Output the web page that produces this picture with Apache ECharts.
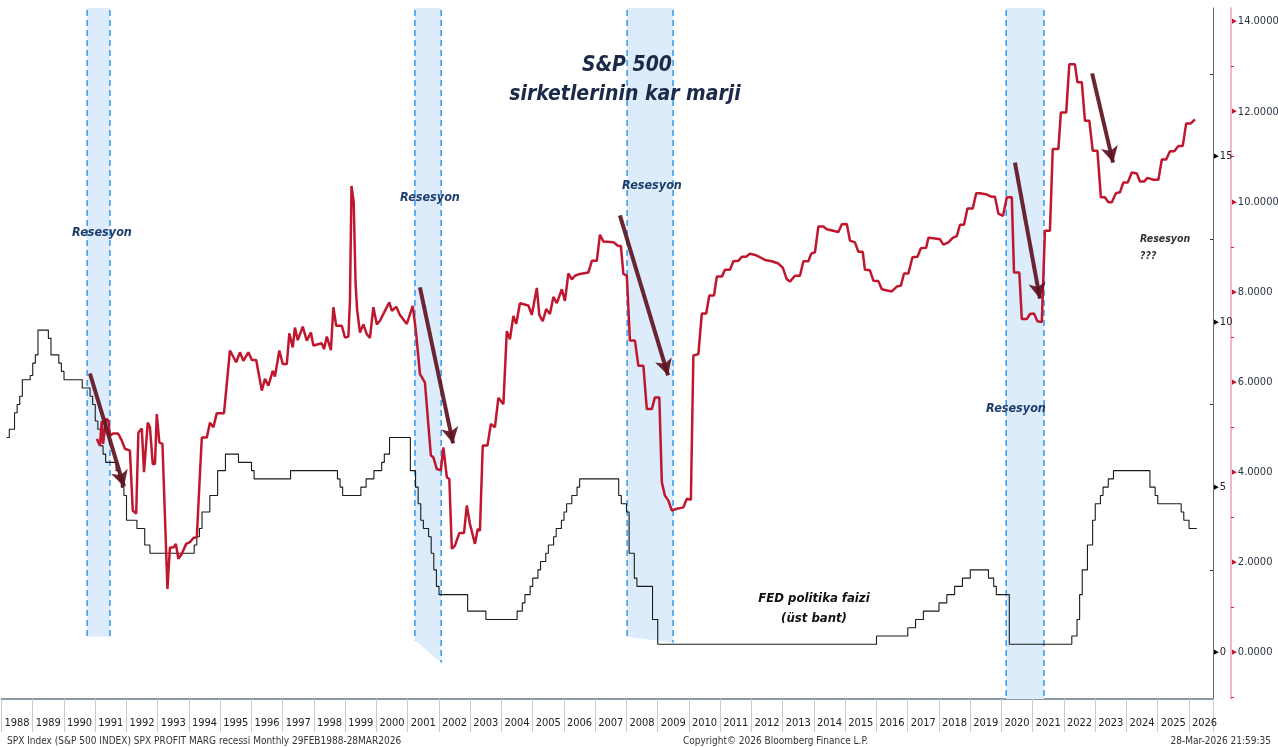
<!DOCTYPE html>
<html><head><meta charset="utf-8">
<script src="https://cdn.jsdelivr.net/npm/echarts@6/dist/echarts.min.js"></script>
<style>html,body{margin:0;padding:0;background:#fff}#c{width:1278px;height:747px}</style>
</head><body><div id="c"></div>
<script>
// ---- DATA ----
// S&P 500 profit margin (right red axis), x = decimal year
const marginYears = [1991.05,1991.15,1991.21,1991.25,1991.35,1991.42,1991.47,1991.57,1991.73,1991.85,1991.95,1992.11,1992.20,1992.31,1992.38,1992.49,1992.56,1992.68,1992.75,1992.84,1992.91,1992.97,1993.05,1993.15,1993.31,1993.39,1993.50,1993.58,1993.66,1993.77,1993.91,1994.03,1994.14,1994.25,1994.35,1994.41,1994.57,1994.67,1994.78,1994.89,1995.12,1995.31,1995.51,1995.63,1995.74,1995.90,1996.01,1996.15,1996.33,1996.43,1996.54,1996.68,1996.75,1996.89,1997.00,1997.13,1997.21,1997.32,1997.39,1997.48,1997.64,1997.77,1997.90,1997.98,1998.25,1998.32,1998.41,1998.54,1998.62,1998.71,1998.89,1998.99,1999.10,1999.15,1999.20,1999.27,1999.33,1999.38,1999.47,1999.58,1999.69,1999.79,1999.90,2000.01,2000.11,2000.27,2000.41,2000.49,2000.63,2000.75,2000.97,2001.16,2001.27,2001.39,2001.55,2001.74,2001.82,2001.93,2002.06,2002.14,2002.25,2002.33,2002.41,2002.51,2002.65,2002.80,2002.89,2002.99,2003.05,2003.15,2003.24,2003.31,2003.40,2003.55,2003.66,2003.79,2003.90,2004.06,2004.17,2004.27,2004.38,2004.47,2004.59,2004.86,2004.97,2005.02,2005.13,2005.21,2005.32,2005.43,2005.55,2005.66,2005.77,2005.93,2006.03,2006.14,2006.25,2006.35,2006.51,2006.78,2006.89,2007.05,2007.15,2007.26,2007.58,2007.74,2007.82,2007.90,2008.01,2008.11,2008.27,2008.38,2008.54,2008.65,2008.81,2008.91,2009.05,2009.13,2009.23,2009.34,2009.45,2009.61,2009.82,2009.93,2010.06,2010.14,2010.30,2010.41,2010.55,2010.65,2010.80,2010.89,2011.05,2011.15,2011.31,2011.42,2011.58,2011.69,2011.83,2011.95,2012.11,2012.27,2012.43,2012.65,2012.86,2013.00,2013.13,2013.23,2013.39,2013.55,2013.66,2013.82,2013.91,2014.03,2014.14,2014.30,2014.41,2014.78,2014.89,2015.05,2015.15,2015.31,2015.42,2015.56,2015.63,2015.79,2015.90,2016.06,2016.17,2016.49,2016.65,2016.78,2016.88,2017.02,2017.15,2017.31,2017.42,2017.59,2017.66,2017.82,2018.03,2018.14,2018.30,2018.44,2018.57,2018.67,2018.80,2018.91,2019.08,2019.19,2019.31,2019.53,2019.69,2019.79,2019.90,2020.05,2020.17,2020.33,2020.40,2020.57,2020.65,2020.81,2020.91,2021.04,2021.15,2021.29,2021.39,2021.55,2021.64,2021.82,2021.90,2022.07,2022.17,2022.35,2022.43,2022.57,2022.67,2022.81,2022.92,2023.07,2023.18,2023.31,2023.42,2023.53,2023.66,2023.79,2023.90,2024.04,2024.17,2024.33,2024.43,2024.56,2024.67,2024.86,2025.02,2025.13,2025.27,2025.39,2025.53,2025.66,2025.80,2025.91,2026.06,2026.19];
const marginValues = [4.74,4.59,5.14,4.63,5.19,5.14,4.81,4.86,4.86,4.70,4.52,4.48,3.15,3.08,4.88,4.97,4.00,5.10,5.00,4.18,4.18,5.29,4.66,4.63,1.41,2.33,2.33,2.41,2.08,2.19,2.41,2.45,2.54,2.56,3.96,4.77,4.77,5.10,5.00,5.31,5.31,6.70,6.44,6.66,6.47,6.66,6.49,6.49,5.81,6.07,5.92,6.25,6.12,6.70,6.40,6.40,7.08,6.77,7.21,6.93,7.23,6.92,7.10,6.81,6.86,6.73,7.01,6.71,7.66,7.25,7.25,6.99,7.01,7.80,10.35,10.00,8.20,7.60,7.10,7.28,7.06,6.98,7.66,7.28,7.36,7.58,7.77,7.58,7.67,7.49,7.29,7.69,7.07,6.18,5.99,4.37,4.33,4.07,4.04,4.55,3.89,3.85,2.30,2.37,2.65,2.65,3.26,2.85,2.89,2.41,2.74,2.70,4.59,4.59,5.07,5.00,5.65,5.51,7.13,6.95,7.47,7.29,7.75,7.70,7.49,7.49,8.09,7.49,7.35,7.62,7.51,7.89,7.75,8.06,7.80,8.41,8.28,8.36,8.40,8.43,8.69,8.69,9.27,9.12,9.10,9.02,9.02,8.40,8.36,6.92,6.92,6.36,6.36,5.40,5.40,5.66,5.66,3.78,3.48,3.37,3.15,3.19,3.22,3.41,3.39,6.59,6.62,7.52,7.52,7.92,7.92,8.34,8.34,8.49,8.49,8.68,8.69,8.78,8.78,8.85,8.82,8.77,8.71,8.68,8.63,8.54,8.28,8.23,8.36,8.36,8.68,8.68,8.85,8.88,9.45,9.45,9.39,9.33,9.50,9.51,9.14,9.10,8.89,8.89,8.49,8.48,8.25,8.24,8.06,8.01,8.12,8.14,8.41,8.41,8.77,8.78,8.97,8.98,9.20,9.19,9.17,9.05,9.10,9.20,9.24,9.49,9.49,9.85,9.85,10.19,10.19,10.16,10.11,10.11,9.74,9.69,10.10,10.10,8.43,8.43,7.40,7.40,7.51,7.52,7.35,7.33,9.36,9.36,11.17,11.17,11.98,11.98,13.05,13.05,12.65,12.65,11.80,11.80,11.13,11.13,10.10,10.10,9.99,9.99,10.19,10.21,10.43,10.43,10.65,10.63,10.45,10.45,10.53,10.49,10.49,10.94,10.94,11.12,11.12,11.24,11.24,11.74,11.74,11.83];

// Fed funds target (upper bound), month of change -> rate (left black scale)
const fedMonths = ['1988-02','1988-03','1988-05','1988-06','1988-07','1988-08','1988-11','1988-12','1989-01','1989-02','1989-06','1989-07','1989-10','1989-11','1989-12','1990-07','1990-10','1990-11','1990-12','1991-01','1991-02','1991-03','1991-04','1991-08','1991-09','1991-10','1991-11','1991-12','1992-04','1992-07','1992-09','1994-02','1994-03','1994-04','1994-05','1994-08','1994-11','1995-02','1995-07','1995-12','1996-01','1997-03','1998-09','1998-10','1998-11','1999-06','1999-08','1999-11','2000-02','2000-03','2000-05','2001-01','2001-03','2001-04','2001-05','2001-06','2001-08','2001-09','2001-10','2001-11','2001-12','2002-11','2003-06','2004-06','2004-08','2004-09','2004-11','2004-12','2005-02','2005-03','2005-05','2005-06','2005-08','2005-09','2005-11','2005-12','2006-01','2006-03','2006-05','2006-06','2007-09','2007-10','2007-12','2008-01','2008-03','2008-04','2008-10','2008-12','2015-12','2016-12','2017-03','2017-06','2017-12','2018-03','2018-06','2018-09','2018-12','2019-07','2019-09','2019-10','2020-03','2022-03','2022-05','2022-06','2022-07','2022-09','2022-11','2022-12','2023-02','2023-03','2023-05','2023-07','2024-09','2024-11','2024-12','2025-09','2025-10','2025-12','2026-03'];
const fedRates = [6.5,6.75,7.25,7.5,7.75,8.25,8.375,8.75,9.0,9.75,9.5,9.0,8.75,8.5,8.25,8.0,7.75,7.5,7.0,6.75,6.25,6.0,5.75,5.5,5.25,5.0,4.75,4.0,3.75,3.25,3.0,3.25,3.5,3.75,4.25,4.75,5.5,6.0,5.75,5.5,5.25,5.5,5.25,5.0,4.75,5.0,5.25,5.5,5.75,6.0,6.5,5.5,5.0,4.5,4.0,3.75,3.5,3.0,2.5,2.0,1.75,1.25,1.0,1.25,1.5,1.75,2.0,2.25,2.5,2.75,3.0,3.25,3.5,3.75,4.0,4.25,4.5,4.75,5.0,5.25,4.75,4.5,4.25,3.0,2.25,2.0,1.0,0.25,0.5,0.75,1.0,1.25,1.5,1.75,2.0,2.25,2.5,2.25,2.0,1.75,0.25,0.5,1.0,1.75,2.5,3.25,4.0,4.5,4.75,5.0,5.25,5.5,5.0,4.75,4.5,4.25,4.0,3.75,3.75];

// Recessions (shaded), start/end in decimal years; band bottom in margin-axis units (left, right)
const recessionStart = [1990.74, 2001.23, 2008.02, 2020.15];
const recessionEnd   = [1991.47, 2002.07, 2009.49, 2021.36];
const recessionBottomL = [0.35, 0.27, 0.35, -1.03];
const recessionBottomR = [0.35, -0.22, 0.22, -1.03];

// Arrows (year, margin value) from -> to
const arrowFrom = [[1990.83, 6.19], [2001.39, 8.10], [2007.79, 9.70], [2020.43, 10.87], [2022.90, 12.85]];
const arrowTo   = [[1991.92, 3.68], [2002.45, 4.64], [2009.33, 6.15], [2021.23, 7.85], [2023.57, 10.87]];

const yearMin = 1988, yearMax = 2026.768;

// ---- CHART ----
const NARROW = "'Liberation Sans Narrow','DejaVu Sans Condensed',sans-serif";
const COND = "'DejaVu Sans Condensed','Liberation Sans Narrow',sans-serif";
const chart = echarts.init(document.getElementById('c'), null, {renderer: 'canvas'});
const monthToYear = s => { const [y, m] = s.split('-').map(Number); return y + m / 12; };
const fedData = fedMonths.map((m, i) => [monthToYear(m), fedRates[i]]);
const marginData = marginYears.map((y, i) => [y, marginValues[i]]);
const recData = recessionStart.map((s, i) => [s, recessionEnd[i], recessionBottomL[i], recessionBottomR[i]]);
const isMult = (v, k) => Math.abs(v / k - Math.round(v / k)) < 1e-6;

chart.setOption({
  animation: false,
  backgroundColor: '#ffffff',
  grid: {left: 1.5, right: 65, top: 8, bottom: 48, containLabel: false, outerBoundsMode: 'none'},
  xAxis: {
    type: 'value', min: yearMin, max: yearMax, interval: 1,
    axisLine: {show: true, onZero: false, lineStyle: {color: '#8a98a6', width: 2}},
    axisTick: {show: true, length: 33, lineStyle: {color: '#c6ccd2', width: 1}},
    axisLabel: {
      formatter: v => Number.isInteger(v) ? String(v) : '',
      margin: 19, padding: [0, 0, 0, 31], fontSize: 11, color: '#222', fontFamily: NARROW
    },
    splitLine: {show: false}
  },
  yAxis: [
    {
      type: 'value', position: 'right', offset: 0, min: -1.406, max: 19.49, splitNumber: 4,
      axisLine: {show: true, lineStyle: {color: '#6a6a6a', width: 1}},
      axisTick: {show: false, inside: true},
      minorTick: {show: true, splitNumber: 2, length: 3, lineStyle: {color: '#333'}},
      axisLabel: {
        margin: 1, fontSize: 11, color: '#222', fontFamily: NARROW,
        formatter: v => isMult(v, 5) ? '{t|▶}' + Math.round(v) : '',
        rich: {t: {fontSize: 7, color: '#000', padding: [0, 1, 0, 0]}}
      },
      splitLine: {show: false}
    },
    {
      type: 'value', position: 'right', offset: 18, min: -1.032, max: 14.30, splitNumber: 8,
      axisLine: {show: true, lineStyle: {color: '#eba3ab', width: 1.5}},
      axisTick: {show: false},
      minorTick: {show: true, splitNumber: 2, length: 3, lineStyle: {color: '#c8283e'}},
      axisLabel: {
        margin: 1, fontSize: 11, color: '#2a3340', fontFamily: NARROW,
        formatter: v => isMult(v, 2) ? '{t|▶}' + v.toFixed(4) : '',
        rich: {t: {fontSize: 7, color: '#c0172f', padding: [0, 1, 0, 0]}}
      },
      splitLine: {show: false}
    }
  ],
  series: [
    {
      type: 'custom', name: 'recessions', xAxisIndex: 0, yAxisIndex: 1, z: 1, silent: true,
      data: recData,
      renderItem: function (params, api) {
        const cs = params.coordSys;
        const top = cs.y;
        const pL = api.coord([api.value(0), api.value(2)]);
        const pR = api.coord([api.value(1), api.value(3)]);
        const dash = {stroke: '#3d9cf2', lineWidth: 1.6, lineDash: [6, 4]};
        return {
          type: 'group',
          children: [
            {type: 'polygon', shape: {points: [[pL[0], top], [pR[0], top], [pR[0], pR[1]], [pL[0], pL[1]]]}, style: {fill: '#ddecfb'}},
            {type: 'line', shape: {x1: pL[0], y1: top + 2, x2: pL[0], y2: pL[1]}, style: dash},
            {type: 'line', shape: {x1: pR[0], y1: top + 2, x2: pR[0], y2: pR[1]}, style: dash}
          ]
        };
      }
    },
    {
      type: 'line', name: 'FED', xAxisIndex: 0, yAxisIndex: 0, z: 3,
      data: fedData, step: 'end', showSymbol: false, symbol: 'none',
      lineStyle: {color: '#1a1a1a', width: 1.1}
    },
    {
      type: 'line', name: 'SPX PROFIT MARG', xAxisIndex: 0, yAxisIndex: 1, z: 4,
      data: marginData, showSymbol: false, symbol: 'none',
      lineStyle: {color: '#c0172f', width: 2.5},
      markLine: {
        silent: true, symbol: ['none', 'arrow'], symbolSize: [13, 16],
        label: {show: false},
        lineStyle: {color: '#5e1420', width: 4, type: 'solid', opacity: 0.92},
        data: arrowFrom.map((f, i) => [{coord: f}, {coord: arrowTo[i]}])
      }
    }
  ],
  graphic: [
    {type: 'text', x: 627, y: 66, z: 10, style: {text: 'S&P 500', font: 'italic bold 21px ' + COND, fill: '#1b2a48', align: 'center', verticalAlign: 'middle'}},
    {type: 'text', x: 625, y: 95, z: 10, style: {text: 'sirketlerinin kar marji', font: 'italic bold 21px ' + COND, fill: '#1b2a48', align: 'center', verticalAlign: 'middle'}},
    {type: 'text', x: 102, y: 233, z: 10, style: {text: 'Resesyon', font: 'italic bold 12.5px ' + COND, fill: '#1f3d6b', align: 'center', verticalAlign: 'middle'}},
    {type: 'text', x: 430, y: 198, z: 10, style: {text: 'Resesyon', font: 'italic bold 12.5px ' + COND, fill: '#1f3d6b', align: 'center', verticalAlign: 'middle'}},
    {type: 'text', x: 652, y: 186, z: 10, style: {text: 'Resesyon', font: 'italic bold 12.5px ' + COND, fill: '#1f3d6b', align: 'center', verticalAlign: 'middle'}},
    {type: 'text', x: 1016, y: 409, z: 10, style: {text: 'Resesyon', font: 'italic bold 12.5px ' + COND, fill: '#1f3d6b', align: 'center', verticalAlign: 'middle'}},
    {type: 'text', x: 1140, y: 239, z: 10, style: {text: 'Resesyon', font: 'italic bold 10.5px ' + COND, fill: '#333', align: 'left', verticalAlign: 'middle'}},
    {type: 'text', x: 1140, y: 256, z: 10, style: {text: '???', font: 'italic bold 10.5px ' + COND, fill: '#333', align: 'left', verticalAlign: 'middle'}},
    {type: 'text', x: 814, y: 599, z: 10, style: {text: 'FED politika faizi', font: 'italic bold 13px ' + COND, fill: '#111', align: 'center', verticalAlign: 'middle'}},
    {type: 'text', x: 814, y: 619, z: 10, style: {text: '(üst bant)', font: 'italic bold 13px ' + COND, fill: '#111', align: 'center', verticalAlign: 'middle'}},
    {type: 'text', x: 7, y: 741, z: 10, style: {text: 'SPX Index (S&P 500 INDEX) SPX PROFIT MARG recessi Monthly 29FEB1988-28MAR2026', font: '10px ' + NARROW, fill: '#333', align: 'left', verticalAlign: 'middle'}},
    {type: 'text', x: 683, y: 741, z: 10, style: {text: 'Copyright© 2026 Bloomberg Finance L.P.', font: '10px ' + NARROW, fill: '#333', align: 'left', verticalAlign: 'middle'}},
    {type: 'text', x: 1271, y: 741, z: 10, style: {text: '28-Mar-2026 21:59:35', font: '10px ' + NARROW, fill: '#333', align: 'right', verticalAlign: 'middle'}}
  ]
});
</script>
</body></html>
